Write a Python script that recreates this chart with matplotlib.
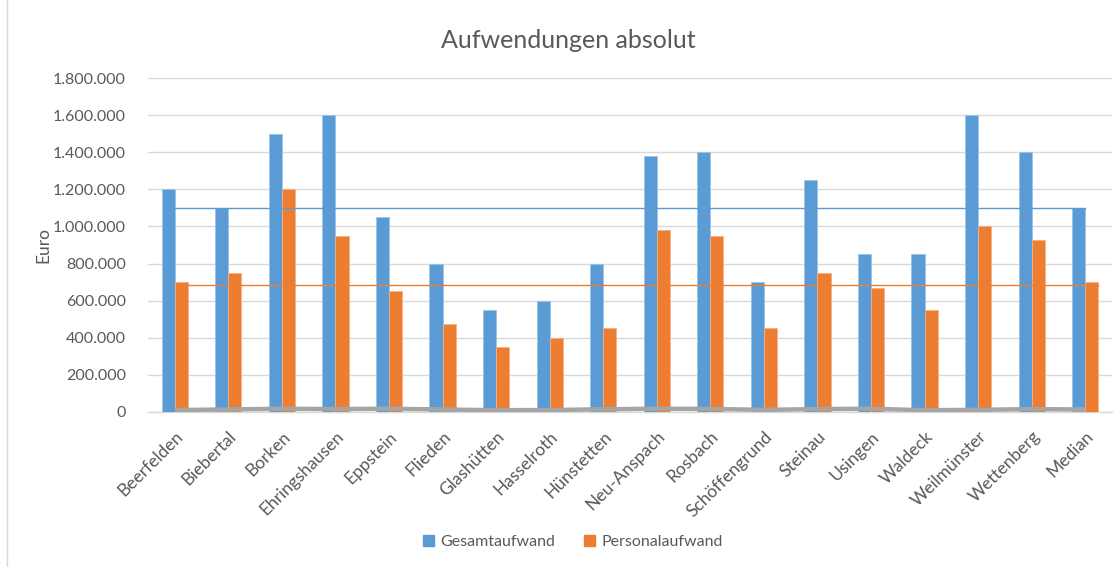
import matplotlib
matplotlib.use("Agg")
import matplotlib.pyplot as plt
import numpy as np
from matplotlib.lines import Line2D
from matplotlib.patches import Patch
from matplotlib.ticker import FuncFormatter

plt.rcParams['font.family'] = ['Lato', 'DejaVu Sans']

categories = ["Beerfelden", "Biebertal", "Borken", "Ehringshausen", "Eppstein", "Flieden",
              "Glashütten", "Hasselroth", "Hünstetten", "Neu-Anspach", "Rosbach",
              "Schöffengrund", "Steinau", "Usingen", "Waldeck", "Weilmünster",
              "Wettenberg", "Median"]
gesamtaufwand = [1200000, 1100000, 1500000, 1600000, 1050000, 800000, 550000, 600000,
                 800000, 1380000, 1400000, 700000, 1250000, 850000, 850000, 1600000,
                 1400000, 1100000]
personalaufwand = [700000, 750000, 1200000, 950000, 650000, 475000, 350000, 400000,
                   450000, 980000, 950000, 450000, 750000, 670000, 550000, 1000000,
                   925000, 700000]
median_gesamt = [1098000] * len(categories)
median_personal = [686000] * len(categories)
gray_series = [9000, 12000, 16000, 14000, 16000, 12000, 8000, 9000, 13000, 16000,
               15000, 10000, 14000, 16000, 8000, 10000, 14000, 12000]

BLUE = "#5B9BD5"
ORANGE = "#ED7D31"
GRAY = "#A5A5A5"
TXT = "#595959"

fig = plt.figure(figsize=(11.18, 5.67), dpi=100)
W, H = 1118, 567
ax = fig.add_axes([148 / W, 1 - 411.7 / H, (1112 - 148) / W, (411.7 - 78.3) / H])

x = np.arange(len(categories))
w = 0.245
ax.bar(x - w / 2, gesamtaufwand, w, color=BLUE, edgecolor="#9DC3E6", linewidth=0.6, zorder=3)
ax.bar(x + w / 2, personalaufwand, w, color=ORANGE, edgecolor="#F4B183", linewidth=0.6, zorder=3)
ax.plot(x, gray_series, color=GRAY, lw=3.2, zorder=4, solid_capstyle="butt")
ax.plot(x, median_gesamt, color=BLUE, lw=1.0, zorder=4)
ax.plot(x + w, median_personal, color=ORANGE, lw=1.0, zorder=4)

ax.set_xlim(-0.5, len(categories) - 0.5)
ax.set_ylim(0, 1800000)
ax.set_yticks(np.arange(0, 1800001, 200000))
ax.yaxis.set_major_formatter(FuncFormatter(lambda v, p: f"{int(v):,}".replace(",", ".")))
ax.grid(axis="y", color="#D9D9D9", lw=1.0, zorder=0)
ax.set_axisbelow(True)
for s in ["top", "right", "left"]:
    ax.spines[s].set_visible(False)
ax.spines["bottom"].set_color("#D9D9D9")
ax.spines["bottom"].set_linewidth(1.0)
ax.tick_params(axis="y", length=0, pad=16, labelsize=11.5, labelcolor=TXT)
ax.tick_params(axis="x", length=0, pad=12, labelsize=12.5, labelcolor=TXT)
ax.set_xticks(x)
ax.set_xticklabels(categories, rotation=45, ha="right", rotation_mode="anchor")

fig.text(43 / W, 1 - 245 / H, "Euro", rotation=90, ha="center", va="center",
         fontsize=12.5, color=TXT)
fig.text(568 / W, 1 - 40 / H, "Aufwendungen absolut", ha="center", va="center",
         fontsize=18, color=TXT)

handles = [Patch(color=BLUE, label="Gesamtaufwand"), Patch(color=ORANGE, label="Personalaufwand")]
fig.legend(handles=handles, loc="center", bbox_to_anchor=(573 / W, 1 - 542 / H), ncol=2,
           frameon=False, fontsize=11.5, labelcolor=TXT, handlelength=0.7, handleheight=0.7,
           handletextpad=0.4, columnspacing=1.8)

fig.add_artist(Line2D([7 / W, 7 / W], [0, 1], color="#D9D9D9", lw=1.0))

fig.savefig("out.png", dpi=100)
